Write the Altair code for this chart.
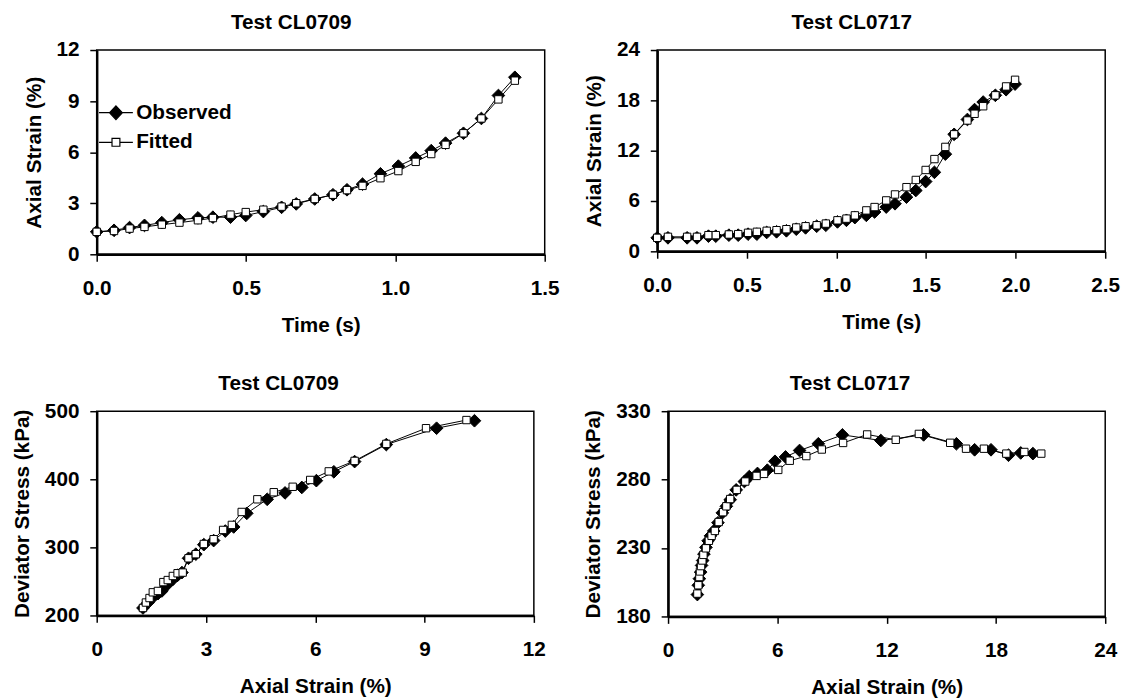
import altair as alt
import pandas as pd

FONT = "Liberation Sans"

# ---------------- Test CL0709: time vs axial strain ----------------
t_0709 = [0.0, 0.058, 0.11, 0.16, 0.218, 0.277, 0.339, 0.389, 0.448, 0.499,
          0.558, 0.619, 0.668, 0.73, 0.791, 0.838, 0.89, 0.95, 1.01, 1.068,
          1.12, 1.168, 1.228, 1.288, 1.345, 1.40]
obs_0709 = [1.32, 1.41, 1.57, 1.70, 1.86, 2.03, 2.14, 2.18, 2.18, 2.28,
            2.51, 2.76, 2.96, 3.25, 3.50, 3.79, 4.12, 4.73, 5.18, 5.66,
            6.09, 6.53, 7.11, 7.98, 9.33, 10.4]
fit_0709 = [1.32, 1.37, 1.51, 1.61, 1.74, 1.86, 2.00, 2.13, 2.33, 2.48,
            2.62, 2.80, 3.00, 3.25, 3.50, 3.77, 4.02, 4.47, 4.89, 5.43,
            5.89, 6.43, 7.11, 7.98, 9.10, 10.2]

# ---------------- Test CL0717: time vs axial strain ----------------
t_0717 = [0.0, 0.06, 0.167, 0.222, 0.286, 0.327, 0.40, 0.452, 0.507, 0.556,
          0.611, 0.666, 0.721, 0.776, 0.828, 0.89, 0.941, 1.006, 1.056, 1.103,
          1.167, 1.213, 1.278, 1.327, 1.391, 1.443, 1.498, 1.547, 1.608, 1.657,
          1.731, 1.771, 1.819, 1.887, 1.947, 1.997]
obs_0717 = [1.61, 1.61, 1.61, 1.61, 1.81, 1.81, 1.93, 1.93, 2.05, 2.05,
            2.25, 2.33, 2.45, 2.64, 2.80, 2.99, 3.11, 3.51, 3.70, 4.02,
            4.29, 4.69, 5.28, 5.67, 6.46, 7.25, 8.32, 9.42, 11.59, 13.95,
            15.72, 16.9, 17.8, 18.6, 19.27, 19.94]
fit_0717 = [1.61, 1.73, 1.73, 1.73, 1.93, 1.93, 2.01, 2.05, 2.21, 2.33,
            2.45, 2.52, 2.64, 2.84, 2.99, 3.11, 3.31, 3.70, 3.90, 4.29,
            4.88, 5.28, 6.07, 6.78, 7.65, 8.51, 9.70, 11.0, 12.45, 13.95,
            15.6, 16.4, 17.3, 18.6, 19.66, 20.45]

# ---------------- Test CL0709: axial strain vs deviator stress ----------------
s_obs_0709 = [1.27, 1.41, 1.54, 1.68, 1.79, 1.95, 2.09, 2.22, 2.34, 2.52,
              2.72, 2.94, 3.21, 3.53, 3.76, 4.12, 4.68, 5.17, 5.63, 6.03,
              6.51, 7.08, 7.95, 9.33, 10.37]
q_obs_0709 = [211, 219, 226.5, 232, 236, 246, 253, 259, 263, 284,
              290, 304, 310, 324, 330, 350, 370.6, 380, 388, 398,
              411, 426, 451, 475, 486]
s_fit_0709 = [1.27, 1.35, 1.45, 1.54, 1.68, 1.83, 1.95, 2.09, 2.22, 2.36,
              2.52, 2.72, 2.94, 3.21, 3.47, 3.71, 3.98, 4.41, 4.86, 5.38,
              5.86, 6.37, 7.08, 7.95, 9.04, 10.15]
q_fit_0709 = [211, 219, 225.6, 234, 236, 249, 252, 258, 262, 263,
              284, 290, 305, 312, 325.6, 333, 352, 370.6, 381, 389,
              399, 411.6, 427, 452, 475, 487]

# ---------------- Test CL0717: axial strain vs deviator stress ----------------
s_obs_0717 = [1.61, 1.66, 1.72, 1.79, 1.84, 1.90, 1.97, 2.08, 2.20, 2.33,
              2.51, 2.74, 2.98, 3.20, 3.41, 3.74, 4.19, 4.46, 4.91, 5.45,
              5.87, 6.45, 7.22, 8.25, 9.57, 11.68, 14.03, 15.83, 16.83, 17.73,
              18.69, 19.36, 20.03]
q_obs_0717 = [196, 202.8, 207.6, 212.4, 217.3, 220.9, 225.6, 230.5, 235.3, 238.9,
              242.5, 248.5, 255.7, 260.5, 265.3, 272.5, 278.6, 282.2, 284.5, 286.9,
              293.4, 296.6, 301.3, 306.2, 312.7, 308.6, 312.7, 306.2, 301.8, 301.8,
              297.8, 299.5, 299]
s_fit_0717 = [1.61, 1.66, 1.72, 1.75, 1.81, 1.88, 1.94, 2.08, 2.24, 2.39,
              2.57, 2.78, 3.02, 3.20, 3.41, 3.77, 4.24, 4.86, 5.27, 6.05,
              6.68, 7.59, 8.44, 9.61, 10.93, 12.5, 13.77, 15.49, 16.36, 17.34,
              18.57, 19.56, 20.49]
q_fit_0717 = [196.7, 202.8, 208.8, 212.9, 216.8, 220.9, 225, 229.8, 235.3, 238.9,
              242.5, 249, 256.2, 260.5, 265.8, 272.5, 278.6, 282.7, 284.2, 287.1,
              293.8, 297.2, 302, 306.8, 313, 309.1, 313.4, 306.9, 302.6, 302.6,
              299, 300.2, 299]

SERIES = ["Observed", "Fitted"]


def frame(xo, yo, xf, yf):
    rows = []
    for i, (a, b) in enumerate(zip(xo, yo)):
        rows.append({"x": a, "y": b, "series": "Observed", "i": i})
    for i, (a, b) in enumerate(zip(xf, yf)):
        rows.append({"x": a, "y": b, "series": "Fitted", "i": i})
    return pd.DataFrame(rows)


# legend symbols: a short line with the marker in the middle
LEG_DIAMOND = "M-2.45,0L-0.93,0M0,-1L0.93,0L0,1L-0.93,0ZM0.93,0L2.45,0"
LEG_SQUARE = "M-2.45,0L-0.57,0M-0.57,-0.57L0.57,-0.57L0.57,0.57L-0.57,0.57ZM0.57,0L2.45,0"


def panel(df, xdom, xvals, xfmt, ydom, yvals, xtitle, ytitle, title, w, h, legend=False):
    x = alt.X("x:Q", scale=alt.Scale(domain=xdom, nice=False, zero=False),
              axis=alt.Axis(values=xvals, format=xfmt, title=xtitle))
    y = alt.Y("y:Q", scale=alt.Scale(domain=ydom, nice=False, zero=False),
              axis=alt.Axis(values=yvals, format="d", title=ytitle))
    base = alt.Chart(df)
    obs = base.transform_filter(alt.datum.series == "Observed")
    fit = base.transform_filter(alt.datum.series == "Fitted")
    layers = [
        obs.mark_line(color="black", strokeWidth=1).encode(x=x, y=y, order="i:Q"),
        obs.mark_point(shape="diamond", filled=True, fill="black", stroke="black",
                       strokeWidth=1, size=165, opacity=1).encode(x=x, y=y),
        fit.mark_line(color="black", strokeWidth=1).encode(x=x, y=y, order="i:Q"),
        fit.mark_point(shape="square", filled=True, fill="white", stroke="black",
                       strokeWidth=1, size=56, opacity=1).encode(x=x, y=y),
    ]
    if legend:
        leg = alt.Legend(title=None, orient="none", legendX=9, legendY=53, padding=0,
                         labelFont=FONT, labelFontSize=21, labelFontWeight="bold",
                         labelColor="black", labelOffset=10, rowPadding=8,
                         symbolSize=196, symbolStrokeColor="black",
                         symbolStrokeWidth=1.2, symbolOpacity=1)
        layers.append(
            base.transform_filter("false").mark_point(
                filled=True, stroke="black", strokeWidth=1.2, size=196, opacity=1
            ).encode(
                x=x, y=y,
                shape=alt.Shape("series:N", scale=alt.Scale(domain=SERIES, range=[LEG_DIAMOND, LEG_SQUARE]), legend=leg),
                fill=alt.Fill("series:N", scale=alt.Scale(domain=SERIES, range=["black", "white"]), legend=leg),
                stroke=alt.Stroke("series:N", scale=alt.Scale(domain=SERIES, range=["black", "black"]), legend=leg),
            )
        )
    return alt.layer(*layers).properties(
        width=w, height=h,
        title=alt.TitleParams(title, font=FONT, fontSize=21, fontWeight="bold",
                              color="black", anchor="middle", frame="bounds", offset=6.5),
    )


p1 = panel(frame(t_0709, obs_0709, t_0709, fit_0709), [0, 1.5], [0, 0.5, 1.0, 1.5], ".1f",
           [0, 12], [0, 3, 6, 9, 12], "Time (s)", "Axial Strain (%)", "Test CL0709", 454, 207, legend=True)
p2 = panel(frame(t_0717, obs_0717, t_0717, fit_0717), [0, 2.5], [0, 0.5, 1.0, 1.5, 2.0, 2.5], ".1f",
           [0, 24], [0, 6, 12, 18, 24], "Time (s)", "Axial Strain (%)", "Test CL0717", 454, 204)
p3 = panel(frame(s_obs_0709, q_obs_0709, s_fit_0709, q_fit_0709), [0, 12], [0, 3, 6, 9, 12], "d",
           [200, 500], [200, 300, 400, 500], "Axial Strain (%)", "Deviator Stress (kPa)", "Test CL0709", 443, 207)
p4 = panel(frame(s_obs_0717, q_obs_0717, s_fit_0717, q_fit_0717), [0, 24], [0, 6, 12, 18, 24], "d",
           [180, 330], [180, 230, 280, 330], "Axial Strain (%)", "Deviator Stress (kPa)", "Test CL0717", 443, 208)

chart = alt.concat(
    p1, p2, p3, p4, columns=2, align="none",
    spacing={"row": 36, "column": 22},
).properties(
    padding={"left": 11, "top": 6, "right": 0, "bottom": 0},
    background="white",
).configure_view(
    stroke="black", strokeWidth=1.5
).configure_axis(
    grid=False, labelFlush=False,
    domainColor="black", domainWidth=2.5,
    tickColor="black", tickWidth=1.5, tickSize=7,
    labelFont=FONT, labelFontSize=21, labelFontWeight="bold", labelColor="black",
    titleFont=FONT, titleFontSize=21, titleFontWeight="bold", titleColor="black",
).configure_axisX(
    labelPadding=17, titlePadding=16,
).configure_axisY(
    labelPadding=11, titlePadding=12,
)

chart.save("out.html", embed_options={"renderer": "svg", "actions": False})
